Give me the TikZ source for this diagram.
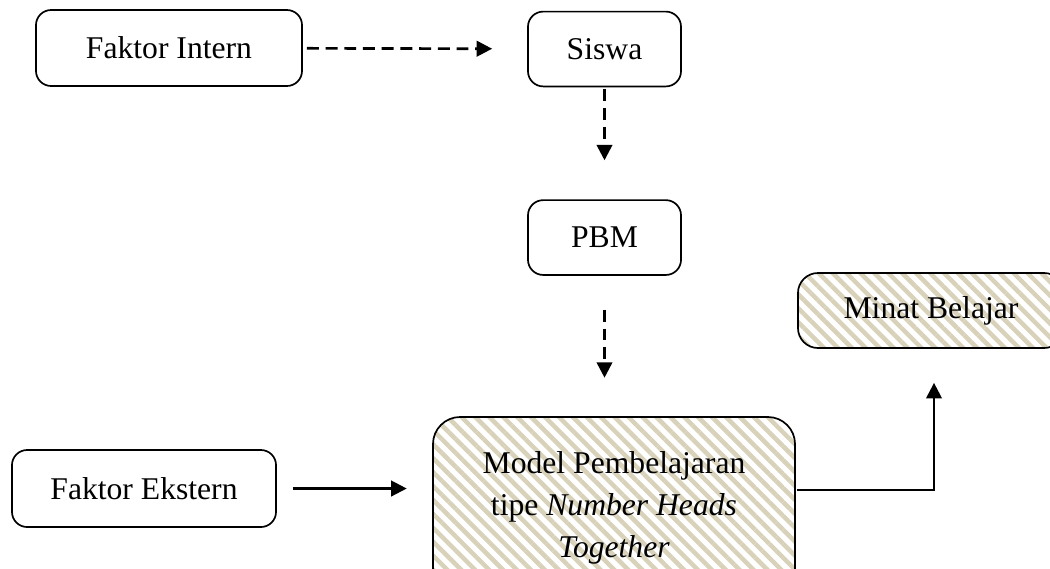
\documentclass[tikz,border=0pt]{standalone}
\usepackage{fontspec}
\setmainfont{Liberation Serif}
\usepackage{tikz}
\usetikzlibrary{arrows.meta, positioning, patterns.meta}
\definecolor{hatchTan}{HTML}{D8D2BA}

\begin{document}
\begin{tikzpicture}[
  x=0.025cm, y=-0.025cm,
  font=\fontsize{22.5}{30}\selectfont,
  box/.style={draw=black, line width=1.2pt, rounded corners=0.38cm, align=center,
              minimum width=6.65cm, minimum height=1.9cm},
  small/.style={box, minimum width=3.825cm, minimum height=1.87cm},
  hatched/.style={box, pattern={Lines[angle=-45, distance=7pt, line width=3.2pt]},
                  pattern color=hatchTan},
  flow/.style={line width=1.6pt, -{Triangle[length=11pt, width=11pt]}},
  maybe/.style={flow, line width=1.9pt, dash pattern=on 8.5pt off 4.8pt},
]
\useasboundingbox (0,0) rectangle (1050,568);
\clip (0,0) rectangle (1050,568);

% upper row
\node[box]   (intern)  at (169,48)    {Faktor Intern};
\node[small] (siswa)   at (604.5,49)  {Siswa};
\node[small, below=2.8cm of siswa] (pbm) {PBM};

% model and result
\node[hatched, minimum width=9.05cm, minimum height=4.55cm, rounded corners=0.68cm]
  (model) at (614,508) {Model Pembelajaran\\tipe \textit{Number Heads}\\\textit{Together}};
\node[box, minimum width=6.6cm, minimum height=1.925cm] (ekstern) at (144,488.5) {Faktor Ekstern};
\node[hatched, minimum height=1.875cm, rounded corners=0.5cm] (minat) at (931,310.5) {Minat Belajar};
\coordinate (turn) at (934,490);

\draw[maybe, shorten <=0.1cm, shorten >=0.875cm] (intern) -- (siswa);
\draw[maybe, shorten <=0.05cm, shorten >=0.975cm] (siswa) -- (pbm);
\draw[maybe, shorten <=0.85cm, shorten >=0.925cm] (pbm) -- (pbm |- model.north);
\draw[flow, shorten <=0.4cm, shorten >=0.6cm] (ekstern.east) -- (ekstern.east -| model.west);
\draw[flow, shorten >=0.85cm] (model.east |- turn) -- (turn) -- (turn |- minat.south);
\end{tikzpicture}
\end{document}
